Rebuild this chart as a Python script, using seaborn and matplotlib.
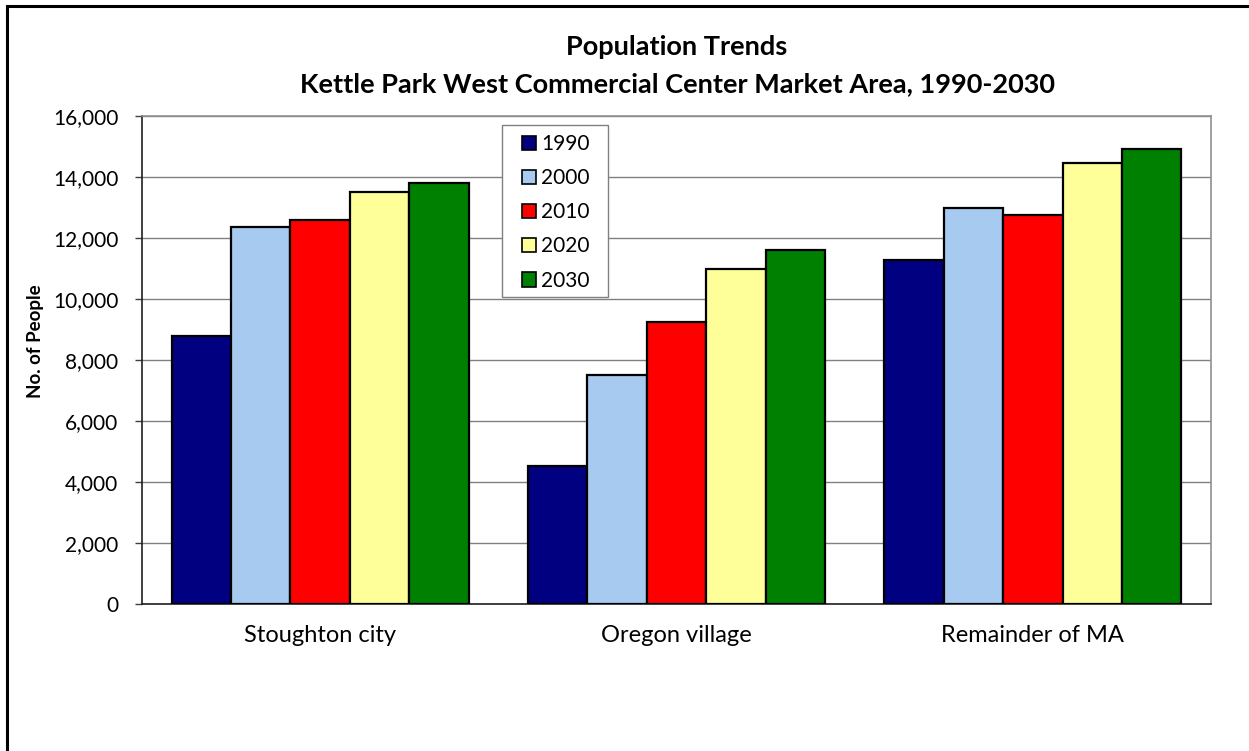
import matplotlib
matplotlib.use("Agg")
import matplotlib.pyplot as plt
import matplotlib.patches as mpatches
import seaborn as sns
import pandas as pd

# Population by area and year
areas = ["Stoughton city", "Oregon village", "Remainder of MA"]
years = ["1990", "2000", "2010", "2020", "2030"]
pop_1990 = [8786, 4519, 11270]
pop_2000 = [12354, 7509, 12990]
pop_2010 = [12600, 9231, 12760]
pop_2020 = [13500, 10970, 14470]
pop_2030 = [13790, 11600, 14920]
colors = ["#000080", "#A6CAF0", "#FF0000", "#FFFF99", "#008000"]

y_ticks = list(range(0, 16001, 2000))

series = [pop_1990, pop_2000, pop_2010, pop_2020, pop_2030]
rows = []
for yr, vals in zip(years, series):
    for area, v in zip(areas, vals):
        rows.append({"Area": area, "Year": yr, "People": v})
df = pd.DataFrame(rows)

sns.set_theme(style="white")
plt.rcParams["font.family"] = ["Lato", "DejaVu Sans"]
plt.rcParams["text.color"] = "black"

W, H = 1249, 751
fig = plt.figure(figsize=(W / 100, H / 100), dpi=100)
fig.patch.set_facecolor("white")

# plot area in pixel terms
x0, x1, yt, yb = 142, 1211, 116, 604
ax = fig.add_axes([x0 / W, 1 - yb / H, (x1 - x0) / W, (yb - yt) / H])

sns.barplot(data=df, x="Area", y="People", hue="Year", order=areas,
            hue_order=years, palette=dict(zip(years, colors)),
            width=5 / 6, edgecolor="black", linewidth=1.6, saturation=1,
            ax=ax, zorder=3)

ax.set_ylim(0, 16000)
ax.set_xlim(-0.5, 2.5)
ax.set_yticks(y_ticks)
ax.set_yticklabels([f"{v:,}" for v in y_ticks])
ax.yaxis.grid(True, color="#808080", linewidth=1.0, zorder=0)
ax.set_axisbelow(True)

ax.tick_params(axis="y", which="major", length=5, width=1, color="#404040",
               direction="out", pad=12, labelsize=15, labelcolor="black")
ax.tick_params(axis="x", which="major", length=0, pad=15, labelsize=17,
               labelcolor="black")
ax.set_xticks(range(len(areas)))
ax.set_xticklabels(areas)
ax.set_xticks([-0.5, 0.5, 1.5, 2.5], minor=True)
ax.tick_params(axis="x", which="minor", length=6, width=1, color="#404040",
               direction="out")
ax.tick_params(left=True, bottom=True)

for side in ["left", "bottom"]:
    ax.spines[side].set_color("#202020")
    ax.spines[side].set_linewidth(1.2)
for side in ["top", "right"]:
    ax.spines[side].set_color("#909090")
    ax.spines[side].set_linewidth(1.2)

ax.set_xlabel("")
ax.set_ylabel("")
fig.text(35 / W, 1 - 341 / H, "No. of People", rotation=90, ha="center",
         va="center", fontsize=13.5, fontweight="bold", color="black")

# titles
fig.text(677 / W, 1 - 47 / H, "Population Trends", ha="center", va="center",
         fontsize=19.5, fontweight="bold", color="black")
fig.text(677 / W, 1 - 84 / H,
         "Kettle Park West Commercial Center Market Area, 1990-2030",
         ha="center", va="center", fontsize=19.5, fontweight="bold",
         color="black")

# legend box
def ax_x(px):
    return (px - x0) / (x1 - x0)

def ax_y(py):
    return (yb - py) / (yb - yt)

frame = mpatches.Rectangle((ax_x(502), ax_y(297)), ax_x(608) - ax_x(502),
                           ax_y(125) - ax_y(297), transform=ax.transAxes,
                           facecolor="white", edgecolor="#808080",
                           linewidth=1.0, zorder=4)
ax.add_patch(frame)

handles = [mpatches.Patch(facecolor=c, edgecolor="black", linewidth=1.2)
           for c in colors]
leg = ax.legend(handles, years, loc="upper left",
                bbox_to_anchor=(ax_x(522), ax_y(134)),
                borderaxespad=0, borderpad=0, frameon=False, fontsize=15,
                handlelength=0.68, handleheight=0.68, handletextpad=0.25,
                labelspacing=0.68)
for t in leg.get_texts():
    t.set_color("black")
leg.set_zorder(5)

# outer chart border
fig.add_artist(mpatches.Rectangle((7 / W, -0.05), 1.1, 1 - 6 / H + 0.05,
                                  transform=fig.transFigure, fill=False,
                                  edgecolor="black", linewidth=2.2))

fig.savefig("out.png", dpi=100, facecolor="white")
